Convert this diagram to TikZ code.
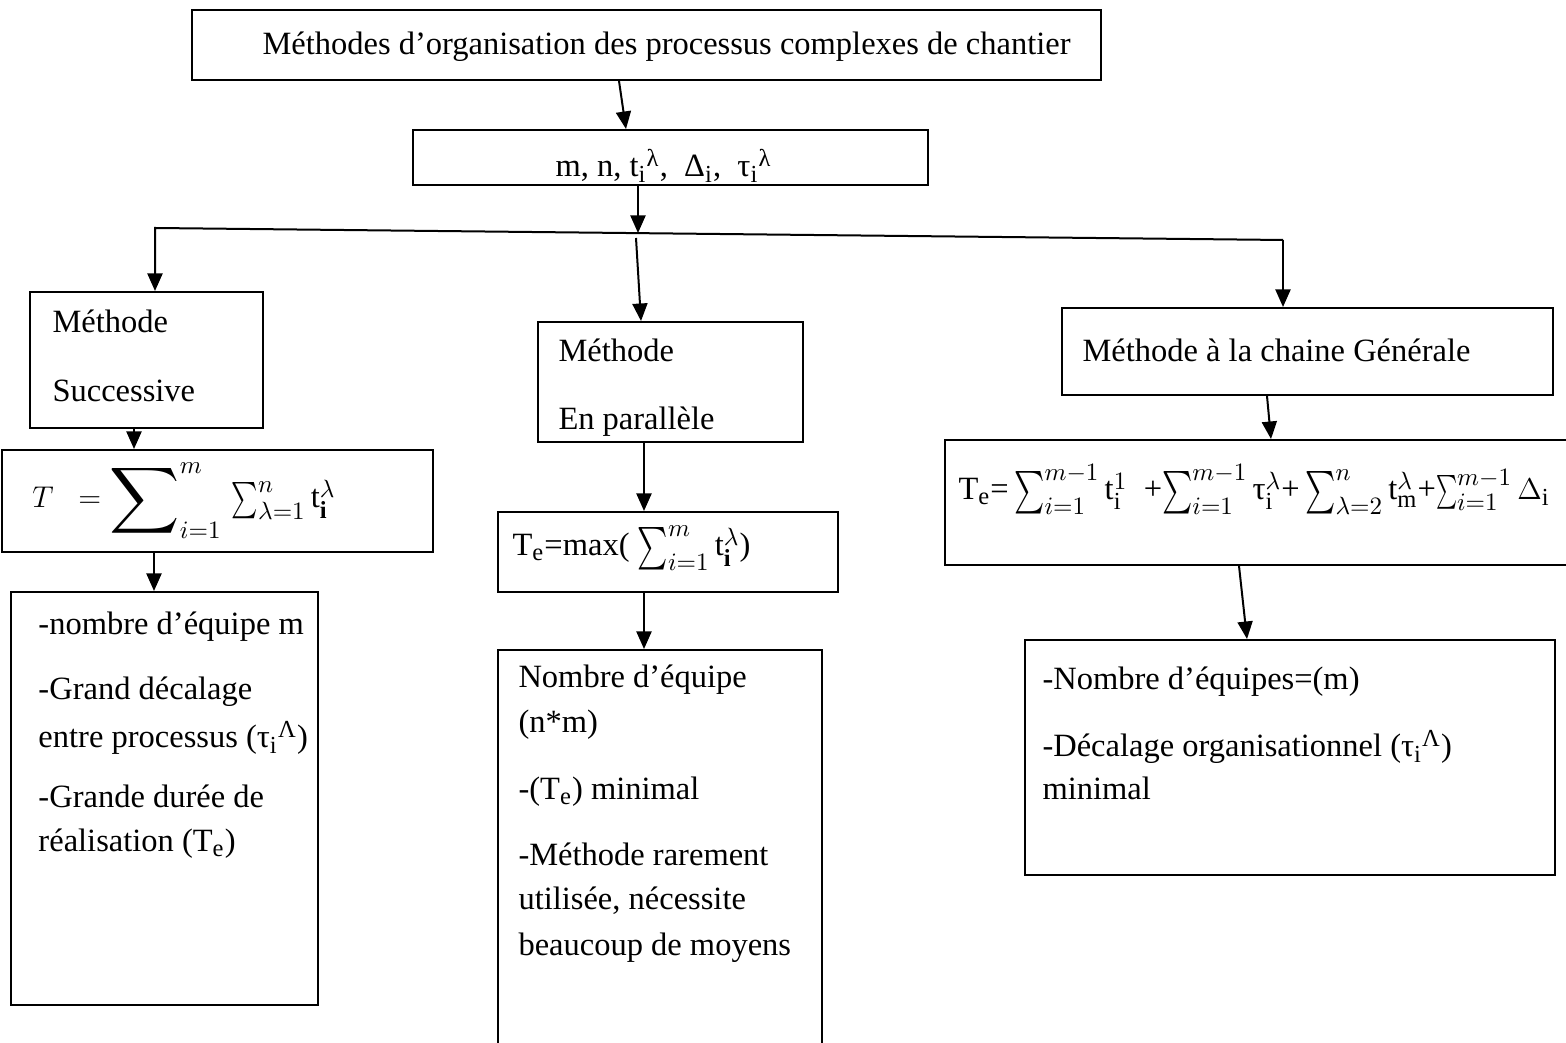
\documentclass[tikz,border=0pt]{standalone}
\usepackage{fontspec}
\usepackage{graphicx}
\setmainfont{Liberation Serif}
\usetikzlibrary{arrows.meta,fit,calc}
\DeclareMathSizes{13}{13}{9.8}{7.5}
\newcommand{\Sbig}{\mathop{\vcenter{\hbox{\scalebox{1.95}[1.85]{$\displaystyle\sum$}}}}\nolimits}
\newcommand{\Smid}{\mathop{\vcenter{\hbox{\scalebox{1.15}[1.7]{$\textstyle\sum$}}}}\nolimits}
\newcommand{\Sone}{\mathop{\vcenter{\hbox{\scalebox{1.0}[1.45]{$\textstyle\sum$}}}}\nolimits}
\newcommand{\Ssml}{\mathop{\vcenter{\hbox{\scalebox{0.8}[1.35]{$\textstyle\sum$}}}}\nolimits}
\begin{document}
\begin{tikzpicture}[x=0.4pt,y=-0.4pt,
 box/.style={draw, line width=0.8pt, inner sep=0pt},
 txt/.style={anchor=base west, inner sep=0pt, font=\fontsize{13}{15}\selectfont},
 arr/.style={line width=0.8pt, -{Triangle[length=7pt,width=6pt]}},
 ln/.style={line width=0.8pt}]
\useasboundingbox (0,0) rectangle (1566,1043);
% boxes
\node[box, fit={(192,10) (1101,80)}] (title) {};
\node[box, fit={(413,130) (928,185)}] (params) {};
\node[box, fit={(30,292) (263,428)}] (succ) {};
\node[box, fit={(538,322) (803,442)}] (par) {};
\node[box, fit={(1062,308) (1553,395)}] (chain) {};
\node[box, fit={(2,450) (433,552)}] (f1) {};
\node[box, fit={(498,512) (838,592)}] (f2) {};
\node[box, fit={(945,440) (1600,565)}] (f3) {};
\node[box, fit={(11,592) (318,1005)}] (l1) {};
\node[box, fit={(498,650) (822,1080)}] (l2) {};
\node[box, fit={(1025,640) (1555,875)}] (l3) {};
% texts
\node[txt] (ttitle) at (262,55) {Méthodes d’organisation des processus complexes de chantier};
\node[txt] (tparams) at (555,177) {m, n, t\textsubscript{i}\textsuperscript{λ},\ \ Δ\textsubscript{i},\ \ τ\textsubscript{i}\textsuperscript{λ}};
\node[txt] (ts1) at (52,333) {Méthode};
\node[txt] (ts2) at (52,402) {Successive};
\node[txt] (tp1) at (558,362) {Méthode};
\node[txt] (tp2) at (558,430) {En parallèle};
\node[txt] (tc1) at (1082,362) {Méthode à la chaine Générale};
\node[txt] (tf1) at (32,508) {$T\ \ =\Sbig_{i=1}^{m}\,\Sone_{\lambda=1}^{n}\mathrm{t}_{\mathbf{i}}^{\lambda}$};
\node[txt] (tf2) at (512,556) {T\textsubscript{e}=max( $\Smid_{i=1}^{m}\mathrm{t}_{\mathbf{i}}^{\lambda}$)};
\node[txt] (tf3) at (958,500) {T\textsubscript{e}=\,$\Smid_{i=1}^{m-1}\mathrm{t}_{\mathrm{i}}^{1}$\ \ +$\Smid_{i=1}^{m-1}\textnormal{τ}_{\mathrm{i}}^{\lambda}$+\,$\Smid_{\lambda=2}^{n}\mathrm{t}_{\mathrm{m}}^{\lambda}$+$\Ssml_{i=1}^{m-1}\Delta_{\mathrm{i}}$};
\node[txt] (a1) at (38,635) {-nombre d’équipe m};
\node[txt] (a2) at (38,700) {-Grand décalage};
\node[txt] (a3) at (38,748) {entre processus (τ\textsubscript{i}\textsuperscript{Λ})};
\node[txt] (a4) at (38,808) {-Grande durée de};
\node[txt] (a5) at (38,852) {réalisation (T\textsubscript{e})};
\node[txt] (b1) at (518,688) {Nombre d’équipe};
\node[txt] (b2) at (518,733) {(n*m)};
\node[txt] (b3) at (518,800) {-(T\textsubscript{e}) minimal};
\node[txt] (b4) at (518,865) {-Méthode rarement};
\node[txt] (b5) at (518,910) {utilisée, nécessite};
\node[txt] (b6) at (518,955) {beaucoup de moyens};
\node[txt] (c1) at (1042,690) {-Nombre d’équipes=(m)};
\node[txt] (c2) at (1042,757) {-Décalage organisationnel (τ\textsubscript{i}\textsuperscript{Λ})};
\node[txt] (c3) at (1042,800) {minimal};
% connectors
\coordinate (hl) at (155,228);
\coordinate (hr) at (1283,240);
\coordinate (hm) at (638,233);
\draw[arr] ($(title.south west)+(428,0)$) -- ($(params.north west)+(214,0)$);
\draw[arr] (params.south -| hm) -- (hm);
\draw[arr] (hr) -- (hl) -- (hl |- succ.north);
\draw[arr] (hr) -- (hr |- chain.north);
\draw[arr] ($(hm)+(-2,5)$) -- ($(par.north west)+(104,0)$);
\draw[arr] ($(succ.south west)+(105,0)$) -- ($(f1.north west)+(133,0)$);
\draw[arr] ($(f1.south west)+(153,0)$) -- ($(l1.north west)+(144,0)$);
\draw[arr] ($(par.south west)+(107,0)$) -- ($(f2.north west)+(147,0)$);
\draw[arr] ($(f2.south west)+(147,0)$) -- ($(l2.north west)+(147,0)$);
\draw[arr] ($(chain.south west)+(206,0)$) -- ($(f3.north west)+(327,0)$);
\draw[arr] ($(f3.south west)+(295,0)$) -- ($(l3.north west)+(223,0)$);
\end{tikzpicture}
\end{document}
